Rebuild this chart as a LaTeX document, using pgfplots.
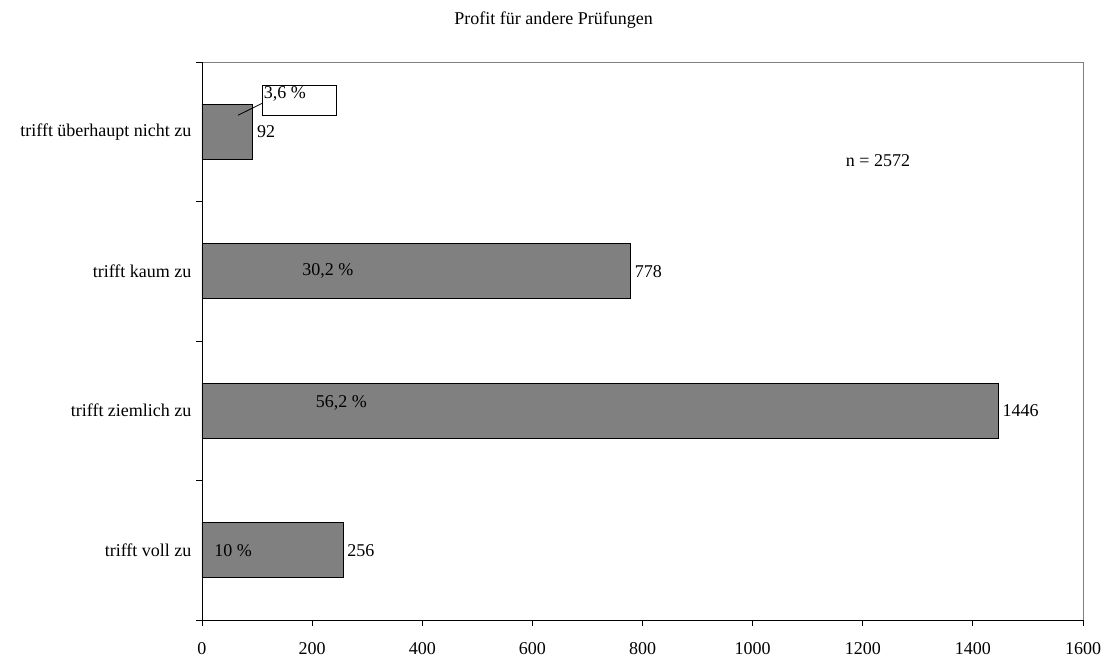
\documentclass[border=0pt]{standalone}
\usepackage{fontspec}
\setmainfont{Liberation Serif}
\usepackage{pgfplots}
\pgfplotsset{compat=1.18}
\definecolor{barfill}{HTML}{808080}
\begin{document}
\begin{tikzpicture}[font=\fontsize{18}{22}\selectfont]
\begin{axis}[
  scale only axis,
  width=881pt, height=558pt,
  xbar,
  bar width=55pt,
  xmin=0, xmax=1600,
  ymin=-0.5, ymax=3.5,
  xtick={0,200,...,1600},
  ytick={0,1,2,3},
  yticklabels={trifft voll zu, trifft ziemlich zu, trifft kaum zu, trifft überhaupt nicht zu},
  /pgf/number format/assume math mode=true,
  /pgf/number format/1000 sep={},
  xtick align=outside,
  ytick align=outside,
  xtick pos=bottom,
  ytick pos=left,
  major tick length=6pt,
  x tick style={draw=black, line width=0.8pt},
  y tick style={draw=none},
  extra y ticks={-0.5,0.5,1.5,2.5,3.5},
  extra y tick labels={},
  extra y tick style={y tick style={draw=black, line width=0.8pt}},
  axis line style={draw=barfill, line width=0.8pt},
  yticklabel style={xshift=-1pt},
  xticklabel style={yshift=-13pt},
  nodes near coords,
  nodes near coords style={anchor=west, inner sep=4pt, black},
  clip=false,
]
\addplot[fill=barfill, draw=black, line width=0.8pt] coordinates {(256,0) (1446,1) (778,2) (92,3)};
\draw[black, line width=0.8pt] (rel axis cs:0,1) -- (rel axis cs:0,0) -- (rel axis cs:1,0);
\pgfplotsinvokeforeach{0,200,400,600,800,1000,1200,1400,1600}{
  \draw[black, line width=0.8pt] (axis cs:#1,-0.5) -- ++(0pt,-6pt);
}
\node at (axis cs:228.8,2.0) {30,2 \%};
\node at (axis cs:253.3,1.056) {56,2 \%};
\node at (axis cs:56.3,0) {10 \%};
\draw[black, line width=0.8pt, fill=white] (axis cs:110.2,3.118) rectangle (axis cs:244.6,3.331);
\node[anchor=north west, inner sep=1pt] at (axis cs:110.2,3.331) {3,6 \%};
\draw[black, line width=0.8pt] (axis cs:65.4,3.118) -- (axis cs:110.2,3.206);
\node at (axis cs:638.4,3.799) {Profit für andere Prüfungen};
\node at (axis cs:1227.7,2.796) {n = 2572};
\end{axis}
\path (current axis.south west) ++(-202pt,-37pt) coordinate (bbA);
\path (current axis.north east) ++(24pt,62pt) coordinate (bbB);
\path (bbA) rectangle (bbB);
\end{tikzpicture}
\end{document}
